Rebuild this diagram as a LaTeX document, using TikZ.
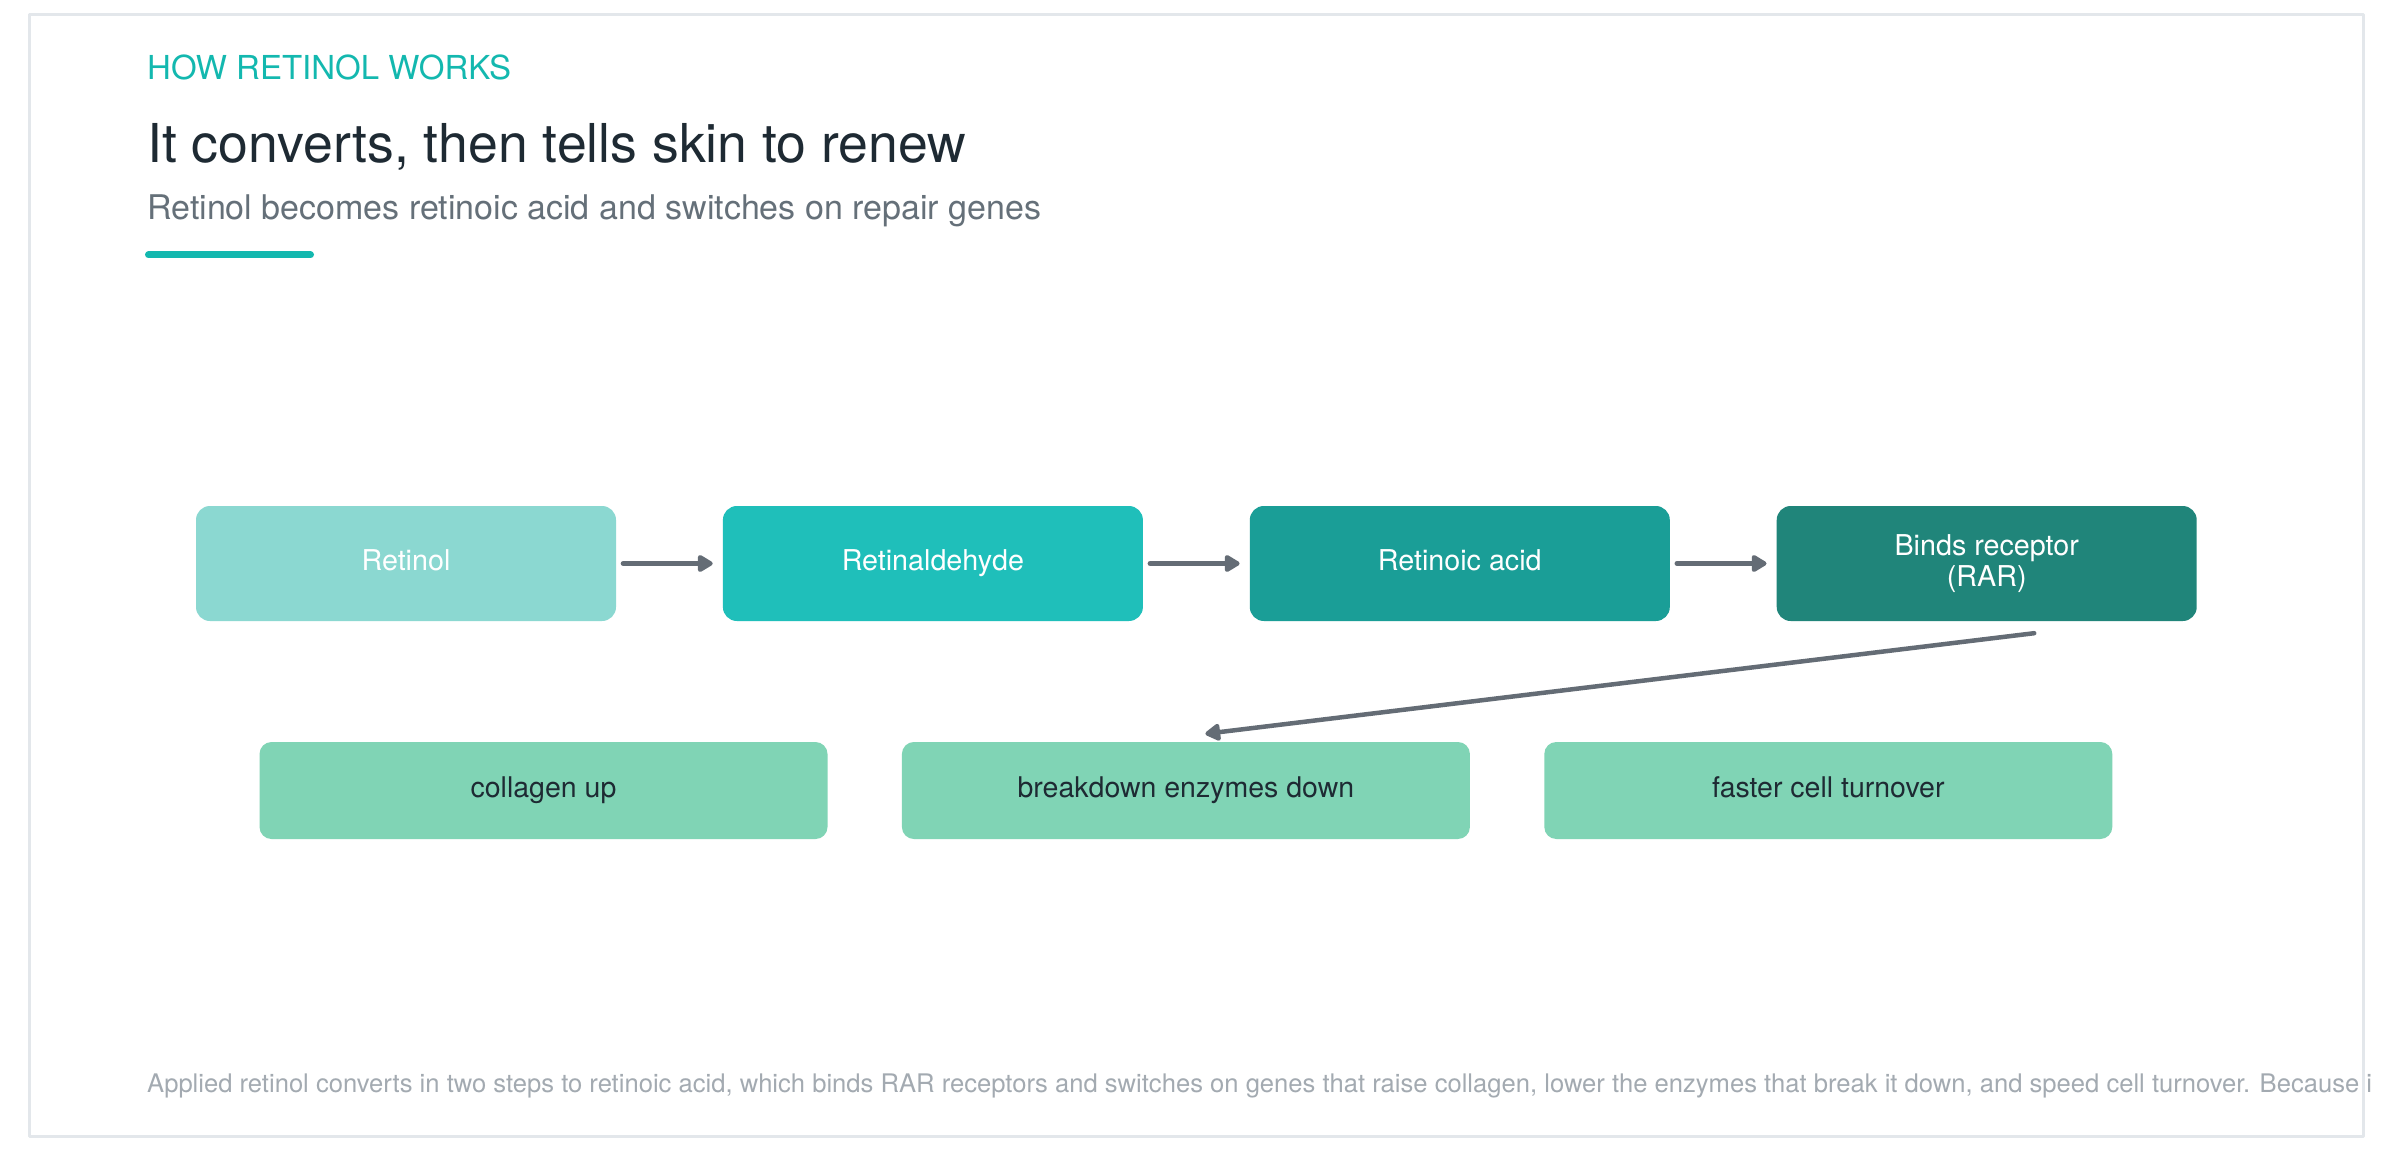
\documentclass[tikz,border=0pt]{standalone}
\usepackage{fontspec}
\setmainfont{TeX Gyre Heros}
\usetikzlibrary{arrows.meta,positioning}
\definecolor{retinolkicker}{HTML}{13B8AF}
\definecolor{retinolink}{HTML}{1E2A33}
\definecolor{retinolsub}{HTML}{657079}
\definecolor{retinolnote}{HTML}{A3AAB1}
\definecolor{retinolframe}{HTML}{E3E7EB}
\definecolor{retinolpale}{HTML}{8BD8D1}
\definecolor{retinolteal}{HTML}{1FBFBA}
\definecolor{retinoldeep}{HTML}{1A9E97}
\definecolor{retinoldark}{HTML}{20857A}
\definecolor{retinolmint}{HTML}{80D4B5}
\definecolor{retinolarrow}{HTML}{646C75}

\begin{document}
\begin{tikzpicture}[x=1pt,y=-1pt,line cap=round,line join=round,
 >={Triangle[length=17pt,width=19pt,round]},
 oneline/.style={text height=20.5pt,text depth=7.5pt},
 stage/.style={rounded corners=14pt,minimum width=420pt,minimum height=115pt,
  inner sep=0pt,text=white,align=center,font=\fontsize{28.7}{31}\selectfont},
 effect/.style={oneline,rounded corners=12pt,fill=retinolmint,minimum width=568pt,
  minimum height=97pt,inner sep=0pt,text=retinolink,font=\fontsize{28.5}{31}\selectfont},
 flow/.style={->,draw=retinolarrow,fill=retinolarrow,line width=5pt}]
 \useasboundingbox[fill=white] (0,0) rectangle (2392,1150);
 \draw[retinolframe,line width=3pt,line cap=butt] (29,15) rectangle (2363,1136);
 \node[anchor=base west,inner sep=0pt,text=retinolkicker,
  font=\fontsize{33}{36}\selectfont] (kicker) at (147,80) {HOW RETINOL WORKS};
 \node[anchor=base west,inner sep=0pt,text=retinolink,
  font=\fontsize{53.6}{58}\selectfont] (title) at (147,163) {It converts, then tells skin to renew};
 \node[anchor=base west,inner sep=0pt,text=retinolsub,
  font=\fontsize{34}{38}\selectfont] (subtitle) at (147,220)
  {Retinol becomes retinoic acid and switches on repair genes};
 \draw[retinolkicker,line width=7pt] (148.5,255) -- (310.5,255);
 \node[stage,oneline,fill=retinolpale] (retinol) at (406,563.5) {Retinol};
 \node[stage,oneline,fill=retinolteal,right=106.5pt of retinol] (aldehyde) {Retinaldehyde};
 \node[stage,oneline,fill=retinoldeep,right=106.5pt of aldehyde] (acid) {Retinoic acid};
 \node[stage,fill=retinoldark,right=106.5pt of acid] (bind) {Binds receptor\\(RAR)};
 \draw[flow] ([xshift=7pt]retinol.east) -- ([xshift=-10pt]aldehyde.west);
 \draw[flow] ([xshift=7pt]aldehyde.east) -- ([xshift=-10pt]acid.west);
 \draw[flow] ([xshift=7pt]acid.east) -- ([xshift=-10pt]bind.west);
 \node[effect] (collagen) at (543.5,790.5) {collagen up};
 \node[effect,right=74pt of collagen] (down) {breakdown enzymes down};
 \node[effect,right=74pt of down] (turnover) {faster cell turnover};
 \draw[flow,line width=4.5pt] ([xshift=47.5pt,yshift=-12pt]bind.south)
  -- ([xshift=19.5pt,yshift=8pt]down.north);
 \node[anchor=base west,inner sep=0pt,text=retinolnote,
  font=\fontsize{25.6}{28}\selectfont] (note) at (147,1092)
  {Applied retinol converts in two steps to retinoic acid, which binds RAR receptors and switches on genes that raise collagen, lower the enzymes that break it down, and speed cell turnover. Because i};
\end{tikzpicture}
\end{document}
